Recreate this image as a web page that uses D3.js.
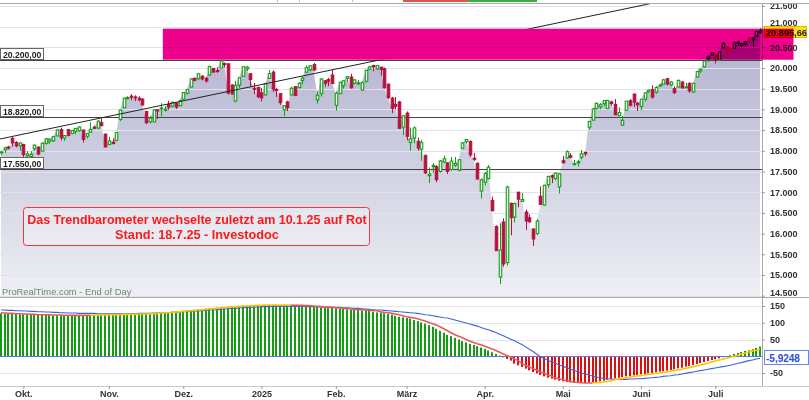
<!DOCTYPE html>
<html>
<head>
<meta charset="utf-8">
<script src="https://cdn.jsdelivr.net/npm/d3@7"></script>
<style>
  body { margin: 0; background: #fff; }
  svg { display: block; font-family: "Liberation Sans", Arial, sans-serif; }
</style>
</head>
<body>
<svg id="chart" width="809" height="400"></svg>
<script>
// Daily OHLC, 23 Sep 2024 – 18 Jul 2025 (one value per trading day)
const opens = [17950,18030,18090,18300,18200,18120,18150,17880,17860,18050,
18090,17990,18180,18230,18240,18360,18510,18310,18510,18420,
18470,18480,18500,18350,18450,18570,18550,18680,18400,18150,
18210,18250,18760,19040,19260,19320,19300,19270,19250,18950,
18700,18700,18990,19030,19000,19120,19080,19150,19090,19250,
19390,19540,19750,19740,19800,19750,19830,19990,19940,20000,
20110,20100,19590,19200,19590,19800,19980,19860,19510,19530,
19400,19350,19750,19900,19480,19380,18990,19180,19350,19550,
19530,19700,19900,19960,20080,19230,19380,19690,19720,19830,
19100,19380,19570,19750,19780,19630,19640,19470,19680,19970,
20060,19980,20020,19980,19610,19270,19120,19180,18570,18910,
18200,18310,18230,18040,17890,17400,17620,17620,17500,17730,
17710,17550,17650,17530,18060,18220,18220,17820,17700,17030,
17240,17330,16800,16170,14950,16280,15300,16730,16400,17000,
16780,16520,16380,16110,16000,16900,16690,17180,17400,17330,
17130,17760,17830,17880,17690,17710,17840,17960,18570,18740,
19020,19060,19140,19020,19180,19120,18850,18620,18980,19210,
19370,19150,19070,19250,19420,19480,19420,19570,19610,19740,
19590,19500,19540,19660,19530,19630,19420,19780,19930,20030,
20220,20310,20320,20190,20490,20510,20440,20480,20600,20540,
20580,20730,20680,20770,20860];

const highs = [18000,18100,18120,18330,18230,18200,18170,17990,17990,18150,
18100,18200,18300,18300,18360,18520,18560,18380,18520,18500,
18550,18590,18510,18430,18690,18610,18740,18780,18420,18340,
18300,18450,19000,19280,19320,19370,19340,19320,19260,18960,
18840,19000,18990,19150,19080,19210,19180,19170,19230,19410,
19490,19750,19770,19870,19830,19790,20060,20000,20020,20200,
20130,20120,19600,19690,19770,20040,20050,19880,19640,19550,
19520,19640,19950,19940,19520,19390,19100,19210,19550,19560,
19650,19790,20060,20060,20120,19440,19750,19710,19760,19960,
19430,19670,19700,19800,19860,19730,19710,19680,19950,20050,
20070,20070,20020,20010,19620,19300,19300,19200,18850,18950,
18560,18590,18320,18270,17900,17600,17700,17650,17780,17880,
17720,17850,17850,17790,18200,18280,18250,17950,17710,17330,
17490,17660,16890,16200,16250,16370,17160,16750,16750,17000,
16980,16580,16460,16130,16350,17140,17170,17390,17430,17470,
17460,17870,18010,17940,17780,17780,18020,17980,18710,19030,
19170,19150,19220,19230,19210,19250,19050,18840,19200,19250,
19380,19180,19250,19410,19480,19580,19560,19620,19730,19760,
19680,19560,19720,19680,19640,19650,19640,19930,19990,20190,
20300,20380,20330,20400,20620,20530,20480,20640,20660,20600,
20650,20750,20740,20890,20960];

const lows = [17900,17950,18030,18100,18080,18000,17820,17840,17830,18000,
17890,17980,18150,18170,18220,18350,18250,18240,18350,18400,
18400,18460,18200,18300,18440,18520,18520,18600,18080,18140,
18150,18240,18720,19030,19240,19220,19200,19190,19100,18640,
18660,18690,18770,18830,18950,18990,19050,19010,19080,19240,
19360,19530,19680,19720,19700,19650,19820,19890,19880,19990,
20010,19360,19370,19170,19520,19790,19930,19550,19370,19270,
19190,19340,19740,19420,19300,19110,18840,18960,19340,19320,
19500,19610,19890,19920,19920,19140,19310,19550,19560,19610,
18970,19370,19500,19670,19500,19610,19590,19450,19650,19950,
19920,19950,19810,19500,19250,18910,19000,18540,18380,18250,
18000,18180,18000,17760,17440,17220,17470,17240,17470,17700,
17440,17520,17610,17500,18050,18180,17850,17750,17300,16850,
17160,17310,16550,15580,14780,15200,15230,15960,16270,16640,
16760,16090,16260,15700,15970,16690,16680,17110,17220,17290,
16970,17690,17810,17820,17650,17620,17790,17870,18510,18730,
19000,19000,19080,19010,19090,18860,18840,18610,18960,19070,
19060,18960,18980,19190,19400,19260,19380,19540,19600,19580,
19560,19370,19530,19500,19520,19400,19400,19760,19880,20010,
20150,20290,20110,20180,20480,20300,20390,20460,20520,20500,
20520,20660,20510,20750,20820];

const closes = [17974,18074,18082,18190,18119,18189,17910,17925,17918,18138,
17924,18183,18291,18282,18343,18503,18316,18368,18374,18490,
18541,18574,18277,18416,18519,18568,18713,18608,18095,18240,
18180,18439,18983,19270,19287,19299,19282,19231,19107,18680,
18791,18988,18967,19036,19004,19054,19175,19060,19218,19404,
19481,19735,19701,19860,19737,19687,20034,19902,19926,20173,
20109,19393,19372,19573,19764,20031,20020,19722,19487,19311,
19280,19622,19865,19490,19479,19162,19088,19044,19511,19338,
19630,19757,20009,20054,19954,19342,19734,19632,19681,19627,
19391,19654,19692,19791,19523,19714,19643,19649,19945,20027,
20041,20056,19962,19524,19286,19026,19075,18544,18847,18350,
18286,18553,18070,18196,17468,17436,17648,17303,17754,17808,
17504,17751,17692,17784,18189,18272,17900,17804,17323,17299,
17450,17601,16551,15588,15603,15268,17125,16387,16724,16832,
16823,16307,16287,15871,16300,16709,17166,17383,17366,17461,
17446,17711,17978,17844,17690,17738,17928,17929,18708,19010,
19146,19112,19211,19216,19143,18873,18926,18737,19199,19101,
19175,19114,19243,19399,19460,19298,19530,19591,19715,19615,
19662,19407,19701,19521,19546,19447,19631,19913,19974,20168,
20273,20370,20202,20394,20601,20412,20418,20611,20630,20586,
20640,20677,20730,20885,20895.66];

// Oscillator panel: histogram, its signal line and the slow line
const hist = [128,127,127,126,126,125,125,124,124,124,
124,123,123,123,122,122,122,122,122,122,
122,122,123,123,123,123,124,124,124,124,
124,125,125,125,125,126,126,126,127,127,
128,129,130,130,131,132,133,134,135,136,
137,138,139,140,141,142,143,144,145,146,
147,148,149,150,150,151,151,152,152,153,
153,153,153,153,153,153,153,152,152,152,
151,151,150,149,148,147,146,146,145,144,
143,142,141,140,139,139,138,137,137,136,
133,131,130,128,126,124,121,118,116,114,
112,108,105,101,97,93,88,82,76,70,
64,60,55,50,45,41,37,34,30,26,
22,17,12,7,2,-3,-8,-13,-22,-27,
-32,-37,-42,-47,-51,-56,-60,-64,-67,-70,
-73,-75,-77,-78,-79,-80,-80,-80,-79,-78,
-77,-75,-73,-70,-68,-66,-64,-62,-60,-59,
-57,-56,-54,-53,-51,-50,-48,-46,-45,-43,
-41,-39,-36,-34,-31,-29,-26,-23,-20,-17,
-14,-11,-9,-6,-3,0,3,7,10,13,
16,18,21,25,29];

const signal = [130,129,128,128,127,127,126,126,125,125,
124,124,124,124,123,123,123,122,122,122,
122,122,122,122,122,123,123,123,123,124,
124,124,124,125,125,125,125,126,126,126,
127,127,128,129,130,130,131,132,133,134,
135,136,137,138,139,140,141,142,143,144,
145,146,147,148,149,150,150,151,151,152,
152,153,153,153,153,153,153,153,153,152,
152,152,151,151,150,149,148,147,146,146,
145,144,143,142,141,140,139,139,138,137,
137,136,133,131,130,128,126,124,121,118,
116,114,112,108,105,101,97,93,88,82,
76,70,64,60,55,50,45,41,37,34,
30,26,22,17,12,7,2,-3,-8,-13,
-22,-27,-32,-37,-42,-47,-51,-56,-60,-64,
-67,-70,-73,-75,-77,-78,-79,-80,-80,-80,
-79,-78,-77,-75,-73,-70,-68,-66,-64,-62,
-60,-59,-57,-56,-54,-53,-51,-50,-48,-46,
-45,-43,-41,-39,-36,-34,-31,-29,-26,-23,
-20,-17,-14,-11,-9,-6,-3,0,3,7,
10,13,16,18,21];

const slow = [138,138,137,137,136,136,135,135,134,134,
133,133,132,132,131,131,130,130,129,129,
129,128,128,128,128,128,127,127,127,127,
127,127,127,127,127,127,127,128,128,128,
128,129,129,129,130,130,131,131,132,133,
133,134,135,135,136,137,138,139,139,140,
141,142,143,143,144,145,146,146,147,147,
148,148,148,149,149,149,149,149,149,149,
149,149,148,148,148,148,147,147,147,146,
146,146,145,145,144,143,143,142,141,140,
139,138,138,137,136,135,134,133,132,131,
130,129,128,126,124,123,121,119,117,115,
114,111,108,105,102,99,96,93,90,86,
82,79,75,71,66,61,56,51,46,40,
35,28,21,14,6,-2,-7,-12,-17,-21,
-26,-30,-34,-38,-42,-46,-50,-53,-56,-59,
-62,-64,-66,-67,-68,-69,-69,-69,-69,-68,
-68,-67,-67,-66,-65,-64,-63,-62,-60,-59,
-58,-56,-55,-53,-51,-49,-47,-45,-43,-41,
-39,-37,-35,-33,-31,-29,-27,-24,-21,-19,
-16,-13,-11,-8,-5.9248];

// Month labels and the bar index of each month's first session
const monthTicks = [6, 29, 49, 70, 90, 109, 130, 151, 172, 192];
const monthLabels = ["Okt.", "Nov.", "Dez.", "2025", "Feb.", "März", "Apr.", "Mai", "Juni", "Juli"];

const priceTicks = [14500,15000,15500,16000,16500,17000,17500,18000,18500,19000,19500,20000,20500,21000,21500];
const oscTicks = [150, 100, 50, -50];

// Horizontal support / resistance levels
const levels = [20200, 18820, 17550];
// Resistance zone (bar index range and price band)
const zoneFrom = 43.5, zoneTo = 213, zoneLow = 20200, zoneHigh = 20950;
// Rising trend line (bar index, price)
const trendStart = [-0.3, 18285], trendEnd = [175.3, 21570];

const noteLines = ["Das Trendbarometer wechselte zuletzt am 10.1.25 auf Rot",
                   "Stand: 18.7.25 - Investodoc"];
const sourceText = "ProRealTime.com - End of Day";

// ---------------------------------------------------------------------
const de = d3.formatLocale({decimal: ",", thousands: ".", grouping: [3], currency: ["", " €"], minus: "-"});
const fmtInt = de.format(",.0f"), fmt2 = de.format(",.2f"), fmt4 = de.format(".4f");

const svg = d3.select("#chart");
const W = 809, axisX = 762;
const mainTop = 3, mainBot = 297, oscTop = 297, oscBot = 386;

const x = d3.scaleLinear().domain([0, closes.length - 1]).range([1, 760]);
const y = d3.scaleLinear().domain([14500, 21500]).range([295.7, 5.9]);
const yo = d3.scaleLinear().domain([-50, 150]).range([373, 306]);

const defs = svg.append("defs");
const grad = defs.append("linearGradient").attr("id", "areaGrad")
  .attr("gradientUnits", "userSpaceOnUse").attr("x1", 0).attr("y1", 0).attr("x2", 0).attr("y2", mainBot);
grad.append("stop").attr("offset", 0).attr("stop-color", "#a9a9cb");
grad.append("stop").attr("offset", 1).attr("stop-color", "#efeff5");

defs.append("clipPath").attr("id", "mainClip").append("rect")
  .attr("x", 0).attr("y", mainTop).attr("width", axisX).attr("height", mainBot - mainTop);
defs.append("clipPath").attr("id", "oscClip").append("rect")
  .attr("x", 0).attr("y", oscTop).attr("width", axisX).attr("height", oscBot - oscTop);

const zx0 = x(zoneFrom), zx1 = x(zoneTo), zy0 = y(zoneHigh), zy1 = y(zoneLow);
defs.append("clipPath").attr("id", "trendClip").append("path")
  .attr("clip-rule", "evenodd")
  .attr("d", `M0,${mainTop}H${axisX}V${mainBot}H0Z M${zx0},${zy0}H${zx1}V${zy1}H${zx0}Z`);

// header strip
const strip = svg.append("g");
strip.append("rect").attr("x", 403).attr("y", 0).attr("width", 65).attr("height", 2).attr("fill", "#d9534f");
strip.append("rect").attr("x", 468).attr("y", 0).attr("width", 69).attr("height", 2).attr("fill", "#3cae3c");
[277, 299, 352].forEach(v => strip.append("line").attr("x1", v + .5).attr("x2", v + .5).attr("y1", 0).attr("y2", 2).attr("stroke", "#bbb"));

// ---------------- main panel ----------------
const main = svg.append("g").attr("clip-path", "url(#mainClip)");

main.append("path").datum(closes)
  .attr("fill", "url(#areaGrad)")
  .attr("d", d3.area().x((d, i) => x(i)).y0(mainBot).y1(d => y(d)));

main.selectAll("line.grid").data(priceTicks).join("line").attr("class", "grid")
  .attr("x1", 0).attr("x2", axisX)
  .attr("y1", d => Math.round(y(d)) + .5).attr("y2", d => Math.round(y(d)) + .5)
  .attr("stroke", "#e2e2ea");

main.selectAll("line.level").data(levels).join("line").attr("class", "level")
  .attr("x1", 0).attr("x2", axisX)
  .attr("y1", d => Math.round(y(d)) + .5).attr("y2", d => Math.round(y(d)) + .5)
  .attr("stroke", "#444");

const candles = main.append("g").selectAll("g").data(closes).join("g");
const up = (i) => closes[i] >= opens[i];
const green = "#12a012", red = "#b3123f";
candles.append("line")
  .attr("x1", (d, i) => Math.round(x(i)) + .5).attr("x2", (d, i) => Math.round(x(i)) + .5)
  .attr("y1", (d, i) => y(highs[i])).attr("y2", (d, i) => y(lows[i]))
  .attr("stroke", (d, i) => up(i) ? green : red);
candles.append("rect")
  .attr("x", (d, i) => Math.round(x(i)) - 0.75)
  .attr("width", 2.5)
  .attr("y", (d, i) => y(Math.max(opens[i], closes[i])))
  .attr("height", (d, i) => Math.max(1, Math.abs(y(opens[i]) - y(closes[i]))))
  .attr("fill", (d, i) => up(i) ? "#f2faf2" : red)
  .attr("stroke", (d, i) => up(i) ? green : red)
  .attr("stroke-width", 1.1);

svg.append("line")
  .attr("clip-path", "url(#trendClip)")
  .attr("x1", x(trendStart[0])).attr("y1", y(trendStart[1]))
  .attr("x2", x(trendEnd[0])).attr("y2", y(trendEnd[1]))
  .attr("stroke", "#222").attr("stroke-width", 1);

// level tags on the left
const tags = svg.append("g").selectAll("g").data(levels).join("g");
tags.append("rect")
  .attr("x", 0.5).attr("width", 43).attr("height", 11)
  .attr("y", d => Math.round(y(d)) - 11.5)
  .attr("fill", "#fff").attr("stroke", "#666");
tags.append("text")
  .attr("x", 3).attr("y", d => Math.round(y(d)) - 2.5)
  .attr("font-size", 8.6).attr("font-weight", "bold").attr("fill", "#222")
  .text(d => fmt2(d));

svg.append("text").attr("x", 2).attr("y", 295)
  .attr("font-size", 9.4).attr("fill", "#6e8a6e").text(sourceText);

// note box
const note = svg.append("g");
note.append("rect").attr("x", 23.5).attr("y", 207.5).attr("width", 346).attr("height", 38).attr("rx", 3)
  .attr("fill", "rgba(255,255,255,0.3)").attr("stroke", "#e8393c");
const noteWidths = [340, 164];
noteLines.forEach((t, k) => {
  const tx = note.append("text").attr("x", 197).attr("y", 224 + k * 15)
    .attr("text-anchor", "middle").attr("font-weight", "bold").attr("font-size", 12)
    .attr("fill", "#fa1a1a").text(t);
  const len = tx.node().getComputedTextLength();
  tx.attr("font-size", 12 * noteWidths[k] / len);
});

// right price axis
svg.append("line").attr("x1", axisX + .5).attr("x2", axisX + .5).attr("y1", mainTop).attr("y2", oscBot).attr("stroke", "#a8a8a8");
const yAxis = svg.append("g").attr("transform", `translate(${axisX},0)`)
  .call(d3.axisRight(y).tickValues(priceTicks).tickFormat(fmtInt).tickSize(3).tickPadding(5));
yAxis.select(".domain").remove();
yAxis.selectAll(".tick line").attr("stroke", "#999");
yAxis.selectAll(".tick text").attr("font-size", 9).attr("font-weight", "bold").attr("fill", "#333")
  .attr("font-family", "Liberation Sans, Arial, sans-serif");
yAxis.selectAll(".tick").filter(d => d === 14500).select("text").attr("dy", "-0.05em");
yAxis.selectAll(".tick").filter(d => d === 21000).select("text").attr("dy", "-0.1em");

// last price tag
const lastY = Math.round(y(closes[closes.length - 1]));
svg.append("rect").attr("x", 764.5).attr("y", lastY - 4.5).attr("width", 42).attr("height", 11)
  .attr("fill", "#ffe01a").attr("stroke", "#e0b800");
svg.append("text").attr("x", 766).attr("y", lastY + 4.5)
  .attr("font-size", 9.2).attr("font-weight", "bold").attr("fill", "#222")
  .text(fmt2(closes[closes.length - 1]));

// resistance zone, blended over everything beneath it
svg.append("rect")
  .attr("x", zx0).attr("y", zy0).attr("width", zx1 - zx0).attr("height", zy1 - zy0)
  .attr("fill", "#ec008c").style("mix-blend-mode", "multiply");

// ---------------- oscillator panel ----------------
const osc = svg.append("g").attr("clip-path", "url(#oscClip)");
osc.selectAll("line.grid").data(oscTicks).join("line")
  .attr("x1", 0).attr("x2", axisX)
  .attr("y1", d => Math.round(yo(d)) + .5).attr("y2", d => Math.round(yo(d)) + .5)
  .attr("stroke", "#e6e6e6");

osc.append("g").selectAll("rect").data(hist).join("rect")
  .attr("x", (d, i) => Math.round(x(i)) - 1)
  .attr("width", 2)
  .attr("y", d => Math.min(yo(d), yo(0)))
  .attr("height", d => Math.abs(yo(d) - yo(0)))
  .attr("fill", d => d >= 0 ? "#149c14" : "#dc0f0f");

osc.append("line").attr("x1", 0).attr("x2", axisX)
  .attr("y1", Math.round(yo(0)) + .5).attr("y2", Math.round(yo(0)) + .5)
  .attr("stroke", "#5a78e6");

const lineGen = d3.line().x(d => x(d[0])).y(d => yo(d[1]));
osc.append("path").datum(slow.map((v, i) => [i, v]))
  .attr("fill", "none").attr("stroke", "#3f62dc").attr("stroke-width", 1.1).attr("d", lineGen);

// signal line: yellow while rising, red while falling
let runs = [], cur = null;
for (let i = 1; i < signal.length; i++) {
  const dir = signal[i] > signal[i - 1] ? "up" : (signal[i] < signal[i - 1] ? "down" : (cur ? cur.dir : "down"));
  if (!cur || cur.dir !== dir) { cur = {dir, pts: [[i - 1, signal[i - 1]]]}; runs.push(cur); }
  cur.pts.push([i, signal[i]]);
}
osc.append("g").selectAll("path").data(runs).join("path")
  .attr("fill", "none").attr("stroke-width", 1.6)
  .attr("stroke", d => d.dir === "up" ? "#ffc400" : "#e85a58")
  .attr("d", d => lineGen(d.pts));

const oAxis = svg.append("g").attr("transform", `translate(${axisX},0)`)
  .call(d3.axisRight(yo).tickValues(oscTicks).tickFormat(de.format("d")).tickSize(3).tickPadding(5));
oAxis.select(".domain").remove();
oAxis.selectAll(".tick line").attr("stroke", "#999");
oAxis.selectAll(".tick text").attr("font-size", 9).attr("font-weight", "bold").attr("fill", "#333")
  .attr("font-family", "Liberation Sans, Arial, sans-serif");

const lastSlowY = Math.round(yo(slow[slow.length - 1]));
svg.append("rect").attr("x", 764.5).attr("y", lastSlowY - 7.5).attr("width", 44).attr("height", 14)
  .attr("fill", "#fff").attr("stroke", "#6d86e0");
svg.append("text").attr("x", 766).attr("y", lastSlowY + 3.5)
  .attr("font-size", 10).attr("font-weight", "bold").attr("fill", "#2b4fd0")
  .text(fmt4(slow[slow.length - 1]));

// frame lines
[mainTop, oscTop].forEach(v => svg.append("line").attr("x1", 0).attr("x2", W)
  .attr("y1", v + .5).attr("y2", v + .5).attr("stroke", "#a8a8a8"));

// x axis
const xAxis = svg.append("g").attr("transform", `translate(0,${oscBot})`)
  .call(d3.axisBottom(x).tickValues(monthTicks).tickFormat((d, i) => monthLabels[i]).tickSize(3).tickPadding(2));
xAxis.select(".domain").attr("stroke", "#c8c8c8").attr("d", `M0,0.5H${W}`);
xAxis.selectAll(".tick line").attr("stroke", "#999");
xAxis.selectAll(".tick text").attr("font-size", 9).attr("font-weight", "bold").attr("fill", "#333")
  .attr("font-family", "Liberation Sans, Arial, sans-serif");
</script>
</body>
</html>
